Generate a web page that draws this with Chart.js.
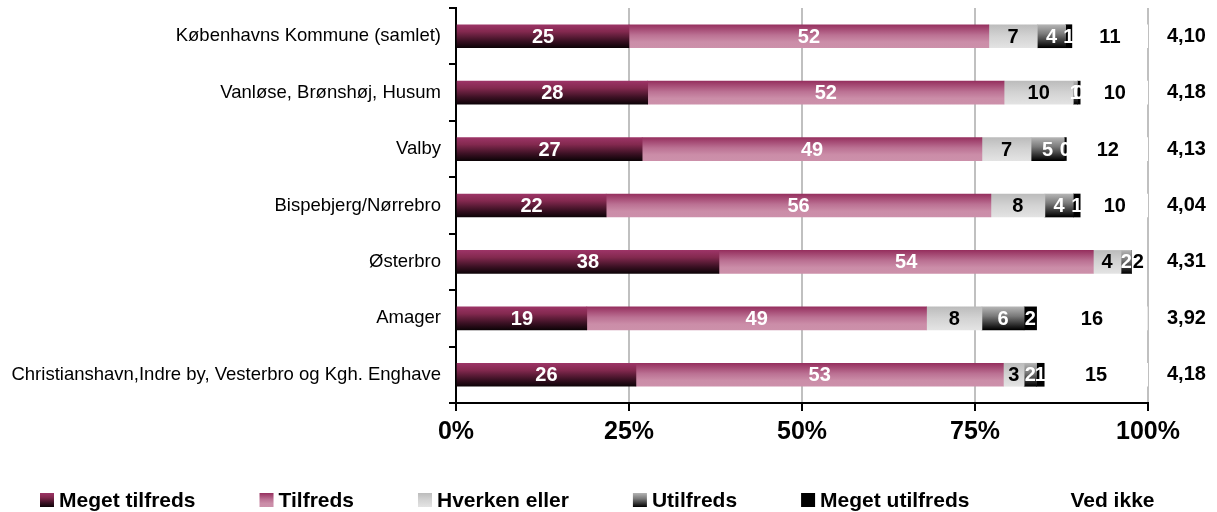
<!DOCTYPE html>
<html>
<head>
<meta charset="utf-8">
<script src="https://cdn.jsdelivr.net/npm/chart.js@4.4.1/dist/chart.umd.min.js"></script>
<style>
  body { margin: 0; background: #fff; }
  #wrap { width: 1217px; height: 512px; position: relative; }
</style>
</head>
<body>
<div id="wrap"><canvas id="chart"></canvas></div>
<script>
// data (percent of answers per district)
const categories = ['Københavns Kommune (samlet)', 'Vanløse, Brønshøj, Husum', 'Valby', 'Bispebjerg/Nørrebro', 'Østerbro', 'Amager', 'Christianshavn,Indre by, Vesterbro og Kgh. Enghave'];
const megetTilfreds = [25.0, 27.7, 26.9, 21.7, 38.0, 18.9, 26.0];
const tilfreds = [52.0, 51.5, 49.1, 55.6, 54.1, 49.1, 53.1];
const hverkenEller = [7.0, 10.0, 7.1, 7.8, 4.0, 8.0, 3.0];
const utilfreds = [4.1, 0.6, 4.8, 4.1, 1.5, 6.1, 1.8];
const megetUtilfreds = [0.9, 0.4, 0.3, 1.0, 0, 1.8, 1.1];
const vedIkke = [11, 10, 12, 10, 2, 16, 15];
const gennemsnit = ['4,10', '4,18', '4,13', '4,04', '4,31', '3,92', '4,18'];
const xTicks = [0, 25, 50, 75, 100];

const FONT = "'Liberation Sans', Arial, sans-serif";
const BAR_H = 23;

function makeGradient(g, stops, y0, y1) {
    const grad = g.createLinearGradient(0, y0, 0, y1);
    stops.forEach(s => grad.addColorStop(s[0], s[1]));
    return grad;
}

const fills = {
    mt: [[0, '#9c3466'], [0.3, '#83294f'], [0.7, '#3c1124'], [1, '#0d0307']],
    t: [[0, '#96305f'], [0.45, '#bb7193'], [0.75, '#cb8da8'], [1, '#cc90aa']],
    h: [[0, '#bcbcbc'], [0.5, '#d3d3d3'], [1, '#e3e3e3']],
    u: [[0, '#b4b4b4'], [0.4, '#7a7a7a'], [1, '#000000']],
    mu: [[0, '#000000'], [1, '#000000']],
    vi: [[0, '#ffffff'], [1, '#ffffff']]
};

function barFill(stops) {
    return function (c) {
        const chart = c.chart;
        const fallback = stops[stops.length - 1][1];
        if (c.type !== 'data' || !chart.scales || !chart.scales.y) return fallback;
        const yc = chart.scales.y.getPixelForValue(c.dataIndex);
        if (!isFinite(yc)) return fallback;
        return makeGradient(chart.ctx, stops, yc - BAR_H / 2, yc + BAR_H / 2);
    };
}

const series = [
    { label: 'Meget tilfreds', data: megetTilfreds, fill: fills.mt, text: '#fff', box: true },
    { label: 'Tilfreds', data: tilfreds, fill: fills.t, text: '#fff', box: true },
    { label: 'Hverken eller', data: hverkenEller, fill: fills.h, text: '#000', box: true },
    { label: 'Utilfreds', data: utilfreds, fill: fills.u, text: '#fff', box: true },
    { label: 'Meget utilfreds', data: megetUtilfreds, fill: fills.mu, text: '#fff', box: true },
    { label: 'Ved ikke', data: vedIkke, fill: fills.vi, text: '#000', box: false }
];

// numbers inside the bars
const barLabels = {
    id: 'barLabels',
    afterDatasetsDraw(chart) {
        const g = chart.ctx;
        g.save();
        g.font = 'bold 20px ' + FONT;
        g.textAlign = 'center';
        g.textBaseline = 'middle';
        chart.data.datasets.forEach((ds, i) => {
            const meta = chart.getDatasetMeta(i);
            meta.data.forEach((bar, j) => {
                const v = ds.data[j];
                if (!v) return;
                g.fillStyle = series[i].text;
                g.fillText(String(Math.round(v)), (bar.x + bar.base) / 2, bar.y + 1);
            });
        });
        g.restore();
    }
};

// legend drawn by hand so the spacing can match
const legendRow = {
    id: 'legendRow',
    afterDraw(chart) {
        const g = chart.ctx;
        const y = 500;
        let x = 40;
        g.save();
        g.font = 'bold 21px ' + FONT;
        g.textBaseline = 'middle';
        g.textAlign = 'left';
        series.forEach((s, i) => {
            if (i === series.length - 1) x += 18;
            if (s.box) {
                g.fillStyle = makeGradient(g, s.fill, y - 7, y + 7);
                g.fillRect(x, y - 7, 14, 14);
            }
            g.fillStyle = '#000';
            g.fillText(s.label, x + 19, y + 1);
            x += 19 + g.measureText(s.label).width + 64;
        });
        g.restore();
    }
};

// drop the extra room chart.js keeps for half a tick label at the ends
function noEndPadding(s) {
    s.paddingTop = 0;
    s.paddingBottom = 0;
}

new Chart(document.getElementById('chart'), {
    type: 'bar',
    data: {
        labels: categories,
        datasets: series.map(s => ({
            label: s.label,
            data: s.data,
            backgroundColor: barFill(s.fill),
            borderWidth: 0,
            barThickness: BAR_H
        }))
    },
    options: {
        indexAxis: 'y',
        responsive: true,
        maintainAspectRatio: false,
        animation: false,
        layout: { padding: { top: 8, bottom: 0, left: 0, right: 0 } },
        plugins: {
            legend: { display: false },
            tooltip: { enabled: false }
        },
        scales: {
            x: {
                stacked: true,
                min: 0,
                max: 100,
                afterBuildTicks: s => { s.ticks = xTicks.map(v => ({ value: v })); },
                afterFit: s => { s.height = 109; },
                grid: { color: '#c0c0c0', lineWidth: 2, tickColor: '#000', tickLength: 8 },
                border: { color: '#000', width: 2 },
                ticks: {
                    color: '#000',
                    padding: 6,
                    maxRotation: 0,
                    font: { family: FONT, size: 25, weight: 'bold' },
                    callback: v => v + '%'
                }
            },
            y: {
                stacked: true,
                afterFit: s => { s.width = 456; noEndPadding(s); },
                grid: { drawOnChartArea: false, color: '#000', lineWidth: 2, tickLength: 7, offset: true },
                border: { color: '#000', width: 2 },
                ticks: { color: '#000', padding: 8, font: { family: FONT, size: 18.5 } }
            },
            y2: {
                type: 'category',
                position: 'right',
                labels: gennemsnit,
                offset: true,
                afterFit: s => { s.width = 69; noEndPadding(s); },
                grid: { display: false },
                border: { display: false },
                ticks: { color: '#000', padding: 11, font: { family: FONT, size: 20, weight: 'bold' } }
            }
        }
    },
    plugins: [barLabels, legendRow]
});
</script>
</body>
</html>
